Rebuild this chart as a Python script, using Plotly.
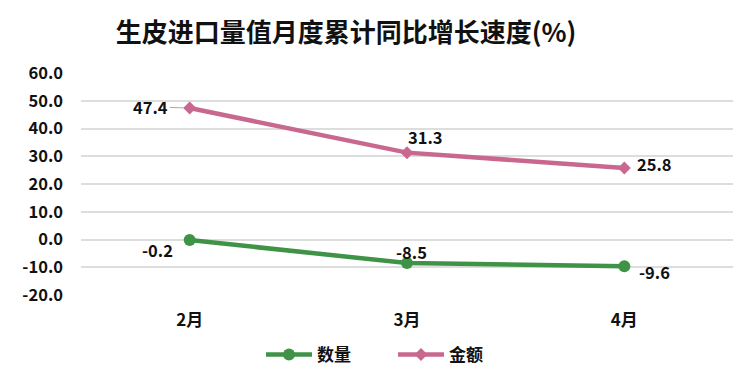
import plotly.graph_objects as go

months = ["2月", "3月", "4月"]
qty = [-0.2, -8.5, -9.6]
amt = [47.4, 31.3, 25.8]
y_ticks = [-20, -10, 0, 10, 20, 30, 40, 50, 60]

GREEN = "#3f9347"
PINK = "#c9688f"
FONT = "Noto Sans CJK SC"
TXT = "#111111"

# page has an 8px body margin; figure is sized to fit within the window
W, H = 742, 366
OFF = 8

fig = go.Figure()
fig.add_trace(go.Scatter(x=months, y=qty, name="数量", mode="lines+markers",
                         line=dict(color=GREEN, width=4.5),
                         marker=dict(symbol="circle", size=12, color=GREEN)))
fig.add_trace(go.Scatter(x=months, y=amt, name="金额", mode="lines+markers",
                         line=dict(color=PINK, width=4.5),
                         marker=dict(symbol="diamond", size=10, color=PINK)))

lab_font = dict(family=FONT, size=16.5, color=TXT, weight="bold")
# data label offsets (px): (dx, dy up)
qty_shift = [(-32, -10), (4, 11), (30, -6)]
amt_shift = [(None, None), (18, 16), (30, 4)]
for m, v, (dx, dy) in zip(months, qty, qty_shift):
    fig.add_annotation(x=m, y=v, text=f"{v:.1f}", showarrow=False,
                       xshift=dx, yshift=dy, font=lab_font)
for i, (m, v, (dx, dy)) in enumerate(zip(months, amt, amt_shift)):
    if i == 0:
        fig.add_annotation(x=m, y=v, text=f"{v:.1f}", showarrow=True,
                           ax=-39, ay=-1, arrowhead=0, arrowwidth=1,
                           arrowcolor="#aaaaaa", standoff=6, font=lab_font)
    else:
        fig.add_annotation(x=m, y=v, text=f"{v:.1f}", showarrow=False,
                           xshift=dx, yshift=dy, font=lab_font)

fig.update_layout(
    width=W, height=H,
    margin=dict(l=81 - OFF, r=W - (733 - OFF), t=73 - OFF, b=H - (295 - OFF), autoexpand=False),
    paper_bgcolor="white", plot_bgcolor="white",
    title=dict(text="生皮进口量值月度累计同比增长速度(%)", x=(346 - OFF) / W, xanchor="center",
               xref="container", yref="container",
               y=1 - (33 - OFF) / H, yanchor="middle",
               font=dict(family=FONT, size=26, color=TXT, weight="bold")),
    showlegend=True,
    legend=dict(orientation="h", xref="container", yref="container",
                x=(393 - OFF) / W, xanchor="center", y=1 - (355 - OFF) / H, yanchor="middle",
                font=dict(family=FONT, size=17, color=TXT, weight="bold"),
                itemwidth=46, entrywidth=71, entrywidthmode="pixels",
                bgcolor="rgba(0,0,0,0)"),
    xaxis=dict(range=[-0.5, 2.5], showgrid=False, showline=False, zeroline=False,
               ticks="", automargin=False, ticklabelstandoff=13,
               tickfont=dict(family=FONT, size=17, color=TXT, weight="bold")),
    yaxis=dict(range=[-20, 60], tickvals=y_ticks, ticktext=[f"{t:.1f}" for t in y_ticks],
               showgrid=True, gridcolor="#dddddd", gridwidth=1.5, zeroline=False,
               showline=False, ticks="", ticklabelstandoff=17, automargin=False,
               tickfont=dict(family=FONT, size=16.5, color=TXT, weight="bold")),
)

fig.write_html("out.html")
